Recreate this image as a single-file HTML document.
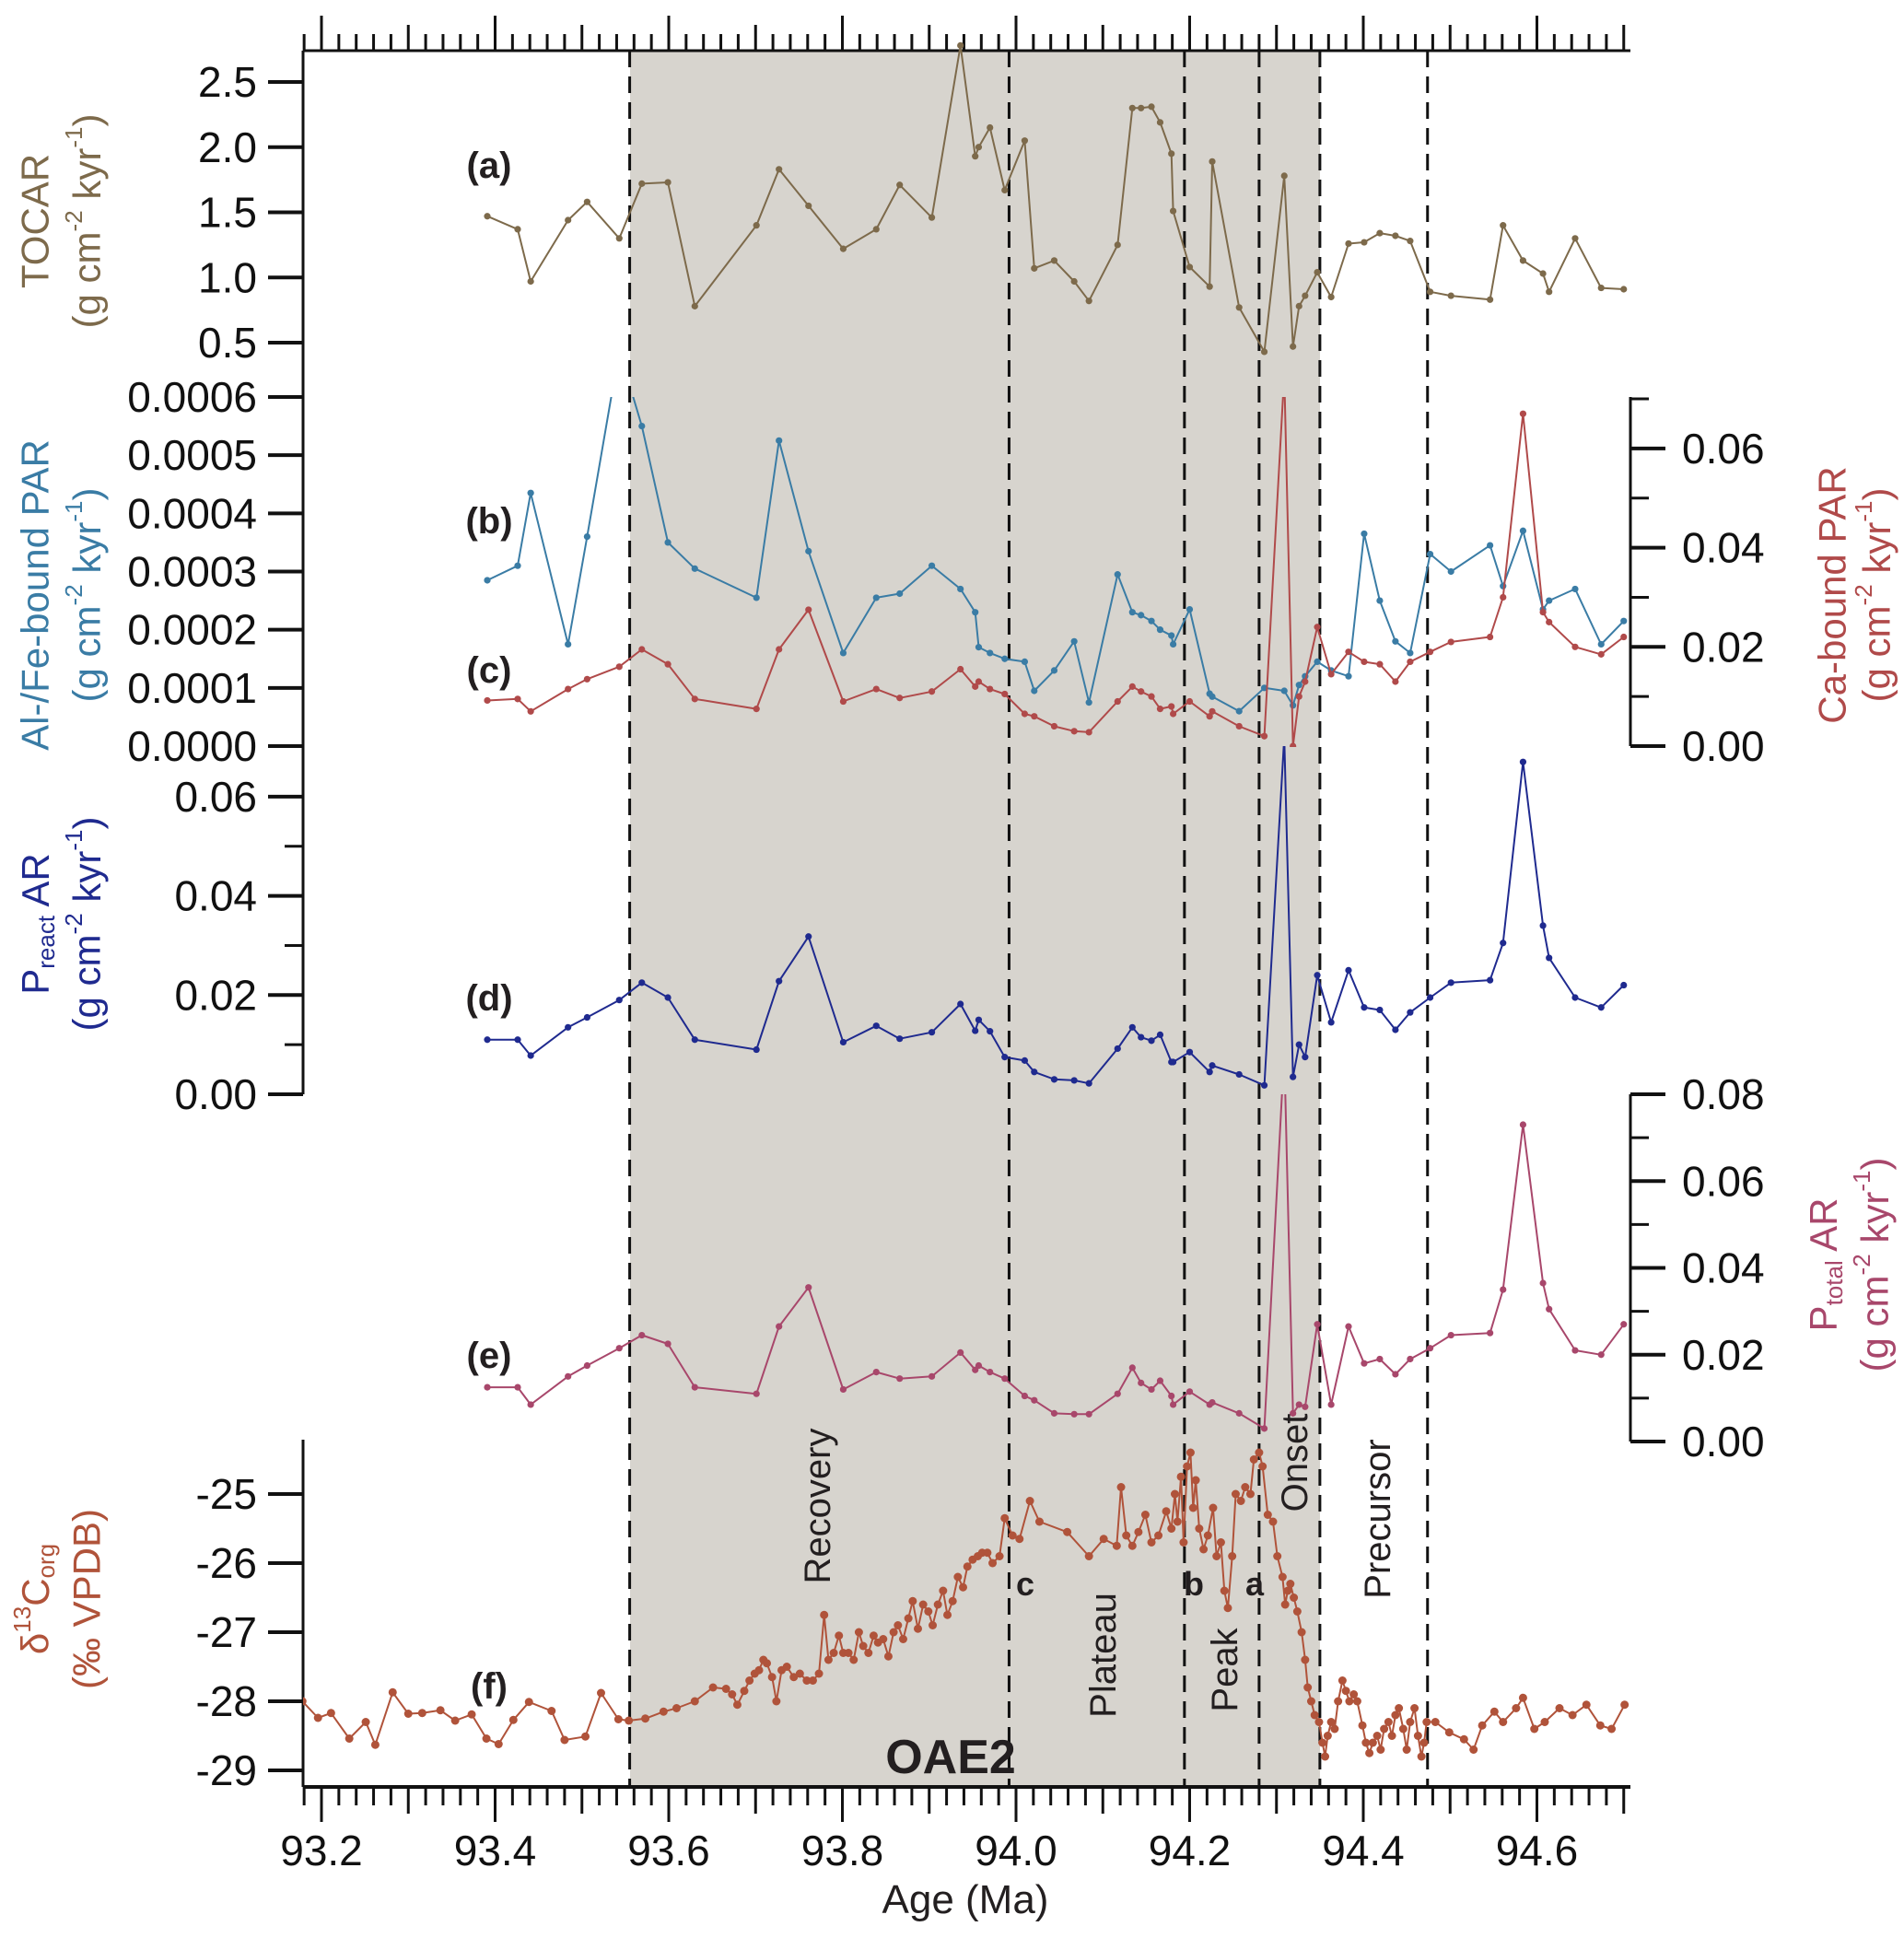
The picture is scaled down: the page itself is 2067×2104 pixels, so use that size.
<!DOCTYPE html>
<html><head><meta charset="utf-8"><style>
html,body{margin:0;padding:0;background:#fff;}
svg{display:block;font-family:"Liberation Sans Narrow","Liberation Sans",sans-serif;}
</style></head><body>
<svg id="chart" xmlns="http://www.w3.org/2000/svg" width="2067" height="2104" viewBox="0 0 2067 2104">
<defs>
<clipPath id="clipA"><rect x="329" y="40" width="1441" height="400"/></clipPath>
<clipPath id="clipB"><rect x="329" y="431" width="1441" height="380"/></clipPath>
<clipPath id="clipD"><rect x="329" y="810" width="1441" height="378"/></clipPath>
<clipPath id="clipE"><rect x="329" y="1188" width="1441" height="377"/></clipPath>
<clipPath id="clipF"><rect x="329" y="1560" width="1441" height="382"/></clipPath>
</defs>
<rect x="684" y="55" width="749" height="1885" fill="#d7d4ce"/>
<g id="dashes"></g>
<g id="axes"></g>
<g id="series"></g>
<g id="labels" font-family="Liberation Sans, sans-serif">
<text x="531" y="193" font-size="40" font-weight="bold" text-anchor="middle" fill="#231f20">(a)</text>
<text x="531" y="579" font-size="40" font-weight="bold" text-anchor="middle" fill="#231f20">(b)</text>
<text x="531" y="741" font-size="40" font-weight="bold" text-anchor="middle" fill="#231f20">(c)</text>
<text x="531" y="1097" font-size="40" font-weight="bold" text-anchor="middle" fill="#231f20">(d)</text>
<text x="531" y="1485" font-size="40" font-weight="bold" text-anchor="middle" fill="#231f20">(e)</text>
<text x="531" y="1844" font-size="40" font-weight="bold" text-anchor="middle" fill="#231f20">(f)</text>
<text transform="translate(888,1635) rotate(-90)" font-size="40" text-anchor="middle" dominant-baseline="central" fill="#231f20">Recovery</text>
<text transform="translate(1198,1797) rotate(-90)" font-size="40" text-anchor="middle" dominant-baseline="central" fill="#231f20">Plateau</text>
<text transform="translate(1330,1813) rotate(-90)" font-size="40" text-anchor="middle" dominant-baseline="central" fill="#231f20">Peak</text>
<text transform="translate(1406,1588) rotate(-90)" font-size="40" text-anchor="middle" dominant-baseline="central" fill="#231f20">Onset</text>
<text transform="translate(1496,1649) rotate(-90)" font-size="40" text-anchor="middle" dominant-baseline="central" fill="#231f20">Precursor</text>
<text x="1113" y="1732" font-size="36" font-weight="bold" text-anchor="middle" fill="#231f20">c</text>
<text x="1296" y="1732" font-size="36" font-weight="bold" text-anchor="middle" fill="#231f20">b</text>
<text x="1362" y="1732" font-size="36" font-weight="bold" text-anchor="middle" fill="#231f20">a</text>
<text x="1032" y="1925" font-size="52" font-weight="bold" text-anchor="middle" fill="#231f20">OAE2</text>
<text x="1048" y="2077" font-size="44" text-anchor="middle" fill="#231f20" font-family="Liberation Sans Narrow, Liberation Sans, sans-serif">Age (Ma)</text>
<g font-size="42" text-anchor="middle" dominant-baseline="central">
<text transform="translate(38,240) rotate(-90)" fill="#7d6a4b">TOCAR</text>
<text transform="translate(94,240) rotate(-90)" fill="#7d6a4b">(g cm<tspan font-size="26" dy="-14">-2</tspan><tspan dy="14"> kyr</tspan><tspan font-size="26" dy="-14">-1</tspan><tspan dy="14">)</tspan></text>
<text transform="translate(38,646) rotate(-90)" fill="#3a7ca5">Al-/Fe-bound PAR</text>
<text transform="translate(94,646) rotate(-90)" fill="#3a7ca5">(g cm<tspan font-size="26" dy="-14">-2</tspan><tspan dy="14"> kyr</tspan><tspan font-size="26" dy="-14">-1</tspan><tspan dy="14">)</tspan></text>
<text transform="translate(38,1003) rotate(-90)" fill="#1f2a8f">P<tspan font-size="26" dy="12">react</tspan><tspan dy="-12"> AR</tspan></text>
<text transform="translate(94,1003) rotate(-90)" fill="#1f2a8f">(g cm<tspan font-size="26" dy="-14">-2</tspan><tspan dy="14"> kyr</tspan><tspan font-size="26" dy="-14">-1</tspan><tspan dy="14">)</tspan></text>
<text transform="translate(38,1736) rotate(-90)" fill="#b0533a">δ<tspan font-size="26" dy="-14">13</tspan><tspan dy="14">C</tspan><tspan font-size="26" dy="12">org</tspan></text>
<text transform="translate(94,1736) rotate(-90)" fill="#b0533a">(‰ VPDB)</text>
<text transform="translate(1989,646) rotate(-90)" fill="#b04a4a">Ca-bound PAR</text>
<text transform="translate(2037,646) rotate(-90)" fill="#b04a4a">(g cm<tspan font-size="26" dy="-14">-2</tspan><tspan dy="14"> kyr</tspan><tspan font-size="26" dy="-14">-1</tspan><tspan dy="14">)</tspan></text>
<text transform="translate(1979,1373) rotate(-90)" fill="#a8476b">P<tspan font-size="26" dy="12">total</tspan><tspan dy="-12"> AR</tspan></text>
<text transform="translate(2035,1373) rotate(-90)" fill="#a8476b">(g cm<tspan font-size="26" dy="-14">-2</tspan><tspan dy="14"> kyr</tspan><tspan font-size="26" dy="-14">-1</tspan><tspan dy="14">)</tspan></text>
</g>
</g>
</svg>
<script>
const NS="http://www.w3.org/2000/svg";
// ---- data ----
const ageTicks=[93.2,93.4,93.6,93.8,94.0,94.2,94.4,94.6];
const ageTickLabels=["93.2","93.4","93.6","93.8","94.0","94.2","94.4","94.6"];
const stageBoundaries=[93.555,93.992,94.194,94.280,94.350,94.474];
const ages=[93.391,93.426,93.441,93.484,93.506,93.543,93.569,93.599,93.630,93.701,93.727,93.761,93.801,93.839,93.866,93.903,93.936,93.953,93.957,93.970,93.987,94.010,94.021,94.044,94.067,94.084,94.117,94.134,94.144,94.156,94.166,94.179,94.181,94.200,94.223,94.226,94.257,94.286,94.309,94.319,94.326,94.333,94.347,94.363,94.383,94.401,94.419,94.437,94.454,94.477,94.501,94.546,94.561,94.584,94.607,94.614,94.644,94.674,94.700];
const tocar=[1.47,1.37,0.97,1.44,1.58,1.30,1.72,1.73,0.78,1.40,1.83,1.55,1.22,1.37,1.71,1.46,2.78,1.93,2.00,2.15,1.67,2.05,1.07,1.13,0.97,0.82,1.25,2.30,2.30,2.31,2.19,1.95,1.51,1.08,0.93,1.89,0.77,0.43,1.78,0.47,0.78,0.86,1.04,0.85,1.26,1.27,1.34,1.32,1.28,0.89,0.86,0.83,1.40,1.13,1.03,0.89,1.30,0.92,0.91];
const alfePar=[0.000285,0.00031,0.000435,0.000175,0.00036,0.00068,0.00055,0.00035,0.000305,0.000255,0.000525,0.000335,0.00016,0.000255,0.000262,0.00031,0.00027,0.00023,0.00017,0.00016,0.00015,0.000145,0.000095,0.00013,0.00018,0.000075,0.000295,0.00023,0.000225,0.000215,0.0002,0.00019,0.000175,0.000235,0.00009,0.000085,0.00006,0.0001,0.000095,0.00007,0.000105,0.00012,0.000145,0.00013,0.00012,0.000365,0.00025,0.00018,0.00016,0.00033,0.0003,0.000345,0.000275,0.00037,0.000235,0.00025,0.00027,0.000175,0.000215];
const caPar=[0.0092,0.0095,0.007,0.0115,0.0135,0.016,0.0195,0.0165,0.0095,0.0075,0.0195,0.0275,0.009,0.0115,0.0097,0.011,0.0155,0.012,0.013,0.0115,0.0105,0.0065,0.006,0.004,0.003,0.0028,0.009,0.012,0.011,0.01,0.0075,0.008,0.0065,0.009,0.006,0.007,0.004,0.002,0.075,0.0,0.01,0.013,0.024,0.0145,0.019,0.017,0.0165,0.013,0.017,0.019,0.021,0.022,0.03,0.067,0.027,0.025,0.02,0.0185,0.022];
const pReact=[0.011,0.011,0.0078,0.0135,0.0155,0.019,0.0225,0.0195,0.011,0.009,0.0228,0.0318,0.0105,0.0138,0.0112,0.0125,0.0182,0.0128,0.015,0.0127,0.0075,0.0068,0.0045,0.003,0.0028,0.0022,0.0092,0.0135,0.0115,0.0108,0.012,0.0065,0.0065,0.0085,0.0045,0.0058,0.004,0.0018,0.072,0.0035,0.01,0.0075,0.024,0.0145,0.025,0.0175,0.017,0.013,0.0165,0.0195,0.0225,0.023,0.0305,0.067,0.034,0.0275,0.0195,0.0175,0.022];
const pTotal=[0.0125,0.0125,0.0085,0.015,0.0175,0.0215,0.0245,0.0225,0.0125,0.011,0.0265,0.0355,0.012,0.016,0.0145,0.015,0.0205,0.0165,0.0175,0.016,0.0145,0.0105,0.0095,0.0065,0.0063,0.0063,0.011,0.017,0.0135,0.012,0.014,0.0105,0.0085,0.0115,0.0085,0.009,0.0065,0.003,0.09,0.0065,0.0085,0.008,0.027,0.0085,0.0265,0.018,0.019,0.0155,0.019,0.0215,0.0245,0.025,0.035,0.073,0.0365,0.0305,0.021,0.02,0.027];
const d13cAges=[93.178,93.196,93.211,93.232,93.251,93.262,93.282,93.300,93.316,93.337,93.354,93.373,93.390,93.404,93.421,93.439,93.465,93.480,93.504,93.522,93.542,93.554,93.573,93.594,93.609,93.630,93.651,93.666,93.673,93.679,93.687,93.693,93.699,93.704,93.709,93.713,93.719,93.724,93.730,93.736,93.744,93.751,93.759,93.766,93.773,93.779,93.784,93.790,93.796,93.801,93.807,93.813,93.819,93.824,93.830,93.836,93.841,93.847,93.853,93.859,93.864,93.870,93.876,93.881,93.887,93.893,93.899,93.904,93.910,93.916,93.921,93.927,93.933,93.939,93.944,93.950,93.956,93.961,93.967,93.973,93.981,93.987,93.996,94.004,94.016,94.027,94.059,94.084,94.101,94.116,94.121,94.127,94.134,94.141,94.149,94.156,94.164,94.173,94.179,94.183,94.186,94.190,94.193,94.197,94.201,94.204,94.207,94.211,94.216,94.221,94.227,94.231,94.236,94.240,94.244,94.249,94.253,94.259,94.264,94.270,94.274,94.280,94.284,94.290,94.296,94.301,94.307,94.310,94.313,94.316,94.320,94.324,94.329,94.333,94.336,94.340,94.344,94.349,94.353,94.356,94.359,94.363,94.367,94.371,94.376,94.380,94.384,94.389,94.393,94.399,94.403,94.407,94.411,94.416,94.420,94.424,94.429,94.433,94.437,94.441,94.446,94.450,94.454,94.459,94.463,94.467,94.470,94.473,94.483,94.499,94.516,94.527,94.537,94.551,94.561,94.576,94.584,94.597,94.609,94.626,94.641,94.657,94.673,94.686,94.701];
const d13c=[-28.0,-28.24,-28.17,-28.54,-28.30,-28.63,-27.87,-28.18,-28.17,-28.13,-28.28,-28.19,-28.54,-28.62,-28.27,-28.01,-28.14,-28.56,-28.51,-27.88,-28.26,-28.28,-28.25,-28.15,-28.1,-28.0,-27.8,-27.82,-27.9,-28.05,-27.85,-27.7,-27.6,-27.55,-27.4,-27.45,-27.65,-28.0,-27.55,-27.5,-27.65,-27.6,-27.7,-27.7,-27.6,-26.75,-27.4,-27.3,-27.05,-27.3,-27.3,-27.4,-27.0,-27.2,-27.3,-27.05,-27.15,-27.1,-27.35,-27.0,-26.9,-27.1,-26.8,-26.55,-26.95,-26.6,-26.7,-26.9,-26.6,-26.4,-26.75,-26.55,-26.2,-26.35,-26.05,-25.95,-25.9,-25.85,-25.85,-26.0,-25.9,-25.35,-25.6,-25.65,-25.1,-25.4,-25.55,-25.9,-25.65,-25.75,-24.9,-25.6,-25.75,-25.55,-25.3,-25.7,-25.6,-25.25,-25.5,-25.0,-25.4,-24.75,-25.7,-24.6,-24.4,-25.2,-24.8,-25.5,-25.8,-25.6,-25.2,-25.9,-25.7,-26.4,-26.65,-25.9,-25.0,-25.1,-24.9,-25.0,-24.5,-24.4,-24.6,-25.3,-25.4,-25.9,-26.2,-26.6,-26.4,-26.3,-26.5,-26.7,-27.0,-27.4,-27.8,-28.0,-28.2,-28.3,-28.6,-28.8,-28.5,-28.3,-28.4,-28.0,-27.7,-27.85,-28.0,-27.9,-28.0,-28.35,-28.6,-28.75,-28.6,-28.5,-28.7,-28.4,-28.3,-28.5,-28.2,-28.1,-28.4,-28.7,-28.3,-28.1,-28.5,-28.8,-28.6,-28.3,-28.3,-28.45,-28.55,-28.7,-28.35,-28.15,-28.3,-28.1,-27.95,-28.4,-28.3,-28.1,-28.2,-28.05,-28.35,-28.4,-28.05];
const tocarTicks=[0.5,1.0,1.5,2.0,2.5];
const tocarTickLabels=["0.5","1.0","1.5","2.0","2.5"];
const alfeTicks=[0,0.0001,0.0002,0.0003,0.0004,0.0005,0.0006];
const alfeTickLabels=["0.0000","0.0001","0.0002","0.0003","0.0004","0.0005","0.0006"];
const caTicks=[0,0.02,0.04,0.06];
const caTickLabels=["0.00","0.02","0.04","0.06"];
const preactTicks=[0,0.02,0.04,0.06];
const preactTickLabels=["0.00","0.02","0.04","0.06"];
const ptotalTicks=[0,0.02,0.04,0.06,0.08];
const ptotalTickLabels=["0.00","0.02","0.04","0.06","0.08"];
const d13cTicks=[-29,-28,-27,-26,-25];
const d13cTickLabels=["-29","-28","-27","-26","-25"];

// ---- scales ----
const X0=329,X1=1770,TOP=55,BOT=1940;
const xS=a=>349+(a-93.2)*942.5;
const yA=v=>372-(v-0.5)*141.5;
const yB=v=>810-v/0.0001*63.17;
const yC=v=>810-v/0.02*107.7;
const yD=v=>1188-v/0.02*107.7;
const yE=v=>1565-v/0.02*94.25;
const yF=v=>1622-(v+25)*75;

function mk(tag,parent,attrs){const e=document.createElementNS(NS,tag);for(const k in attrs)e.setAttribute(k,attrs[k]);parent.appendChild(e);return e;}
const axes=document.getElementById('axes'),series=document.getElementById('series'),dashes=document.getElementById('dashes');

stageBoundaries.forEach((a,i)=>{
 const l=mk('line',dashes,{x1:xS(a),x2:xS(a),y1:TOP,y2:BOT,stroke:'#111','stroke-width':3,'stroke-dasharray':'18 10'});
 
 
});

let ln;
ln=mk('line',axes,{x1:X0,x2:X1,y1:TOP,y2:TOP,stroke:'#111','stroke-width':3});

ln=mk('line',axes,{x1:X0,x2:X1,y1:BOT,y2:BOT,stroke:'#111','stroke-width':4});

ln=mk('line',axes,{x1:X0,x2:X0,y1:TOP,y2:1188,stroke:'#111','stroke-width':3});

ln=mk('line',axes,{x1:X0,x2:X0,y1:1563,y2:BOT,stroke:'#111','stroke-width':3});

ln=mk('line',axes,{x1:X1,x2:X1,y1:431,y2:810,stroke:'#111','stroke-width':3});

ln=mk('line',axes,{x1:X1,x2:X1,y1:1188,y2:1565,stroke:'#111','stroke-width':3});


for(let k=0;k<=77;k++){
 const a=93.18+k*0.02; const x=xS(a); if(x<X0-1||x>X1+1)continue;
 const r=Math.round((a-93.2)*100); const isMaj=Math.abs(r%20)===0, isMed=!isMaj&&Math.abs(r%10)===0;
 const lb=isMaj?38:isMed?29:20, lt=isMaj?38:isMed?28:18;
 const t=mk('line',axes,{x1:x,x2:x,y1:BOT,y2:BOT+lb,stroke:'#111','stroke-width':3});
 
 const t2=mk('line',axes,{x1:x,x2:x,y1:TOP,y2:TOP-lt,stroke:'#111','stroke-width':3});
 
}
ageTicks.forEach((a,i)=>{
 const t=mk('text',axes,{x:xS(a),y:2025,'font-size':46,'text-anchor':'middle',fill:'#111'});
 t.textContent=ageTickLabels[i];
 
});

function yAxis(ticks,labels,ys,side,minorStep,lo,hi){
 const x=side==='L'?X0:X1, d=side==='L'?-1:1;
 if(minorStep){for(let v=lo;v<=hi+1e-9;v+=minorStep){const t=mk('line',axes,{x1:x,x2:x+d*20,y1:ys(v),y2:ys(v),stroke:'#111','stroke-width':3});}}
 ticks.forEach((v,i)=>{
  const t=mk('line',axes,{x1:x,x2:x+d*38,y1:ys(v),y2:ys(v),stroke:'#111','stroke-width':4});
  
  const tx=mk('text',axes,{x:side==='L'?x-50:x+56,y:ys(v)+16,'font-size':46,'text-anchor':side==='L'?'end':'start',fill:'#111'});
  tx.textContent=labels[i];
  
 });
}
yAxis(tocarTicks,tocarTickLabels,yA,'L',0,0,0);
yAxis(alfeTicks,alfeTickLabels,yB,'L',0,0,0);
yAxis(caTicks,caTickLabels,yC,'R',0.01,0,0.07);
yAxis(preactTicks,preactTickLabels,yD,'L',0.01,0,0.06);
yAxis(ptotalTicks,ptotalTickLabels,yE,'R',0.01,0,0.08);
yAxis(d13cTicks,d13cTickLabels,yF,'L',0,0,0);

function draw(xs,vs,ys,color,clip,name,r,sw){
 const g=mk('g',series,{'clip-path':'url(#'+clip+')'});
 
 
 const pts=xs.map((a,i)=>xS(a).toFixed(1)+','+ys(vs[i]).toFixed(1)).join(' ');
 const pl=mk('polyline',g,{points:pts,fill:'none',stroke:color,'stroke-width':sw,'stroke-linejoin':'round'});
 
 
 xs.forEach((a,i)=>{
  const c=mk('circle',g,{cx:xS(a),cy:ys(vs[i]),r:r,fill:color});
  
  
 });
}
draw(ages,tocar,yA,'#7d6a4b','clipA','tocar-series',3.6,2);
draw(ages,alfePar,yB,'#3a7ca5','clipB','alfe-par-series',3.6,2);
draw(ages,caPar,yC,'#b04a4a','clipB','ca-par-series',3.6,2);
draw(ages,pReact,yD,'#1f2a8f','clipD','preact-series',3.6,2);
draw(ages,pTotal,yE,'#a8476b','clipE','ptotal-series',3.6,2);
draw(d13cAges,d13c,yF,'#b0533a','clipF','d13c-series',4.5,2);
</script>
</body></html>
